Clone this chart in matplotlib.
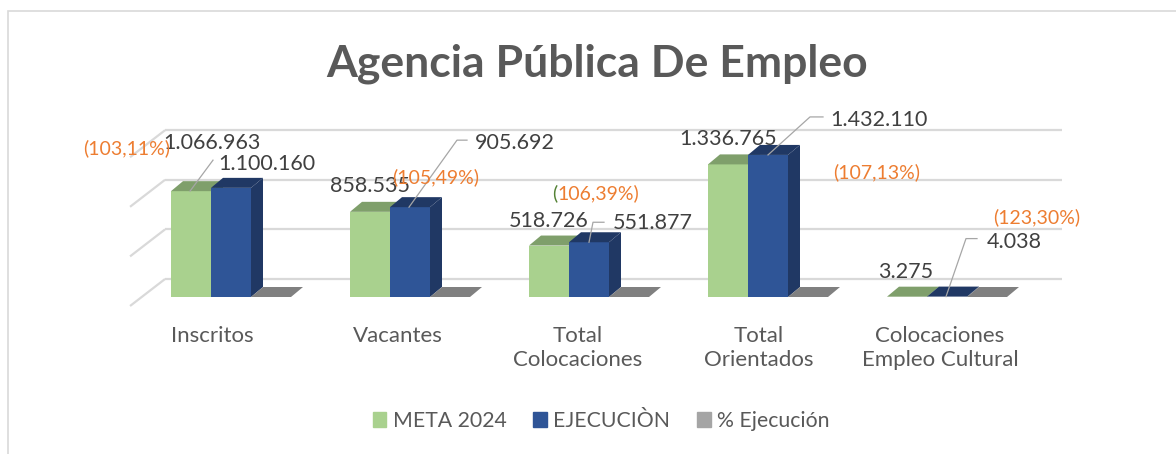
import matplotlib
matplotlib.use("Agg")
import matplotlib.pyplot as plt
from matplotlib.patches import Polygon, Rectangle

plt.rcParams['font.family'] = ['Lato', 'DejaVu Sans']

# data
categories = ['Inscritos', 'Vacantes', 'Total\nColocaciones', 'Total\nOrientados',
              'Colocaciones\nEmpleo Cultural']
meta_2024 = [1066963, 858535, 518726, 1336765, 3275]
ejecucion = [1100160, 905692, 551877, 1432110, 4038]
pct_ejecucion = [103.11, 105.49, 106.39, 107.13, 123.30]
meta_labels = ['1.066.963', '858.535', '518.726', '1.336.765', '3.275']
ejec_labels = ['1.100.160', '905.692', '551.877', '1.432.110', '4.038']
pct_labels = ['(103,11%)', '(105,49%)', '(106,39%)', '(107,13%)', '(123,30%)']
gridlines = [0, 500000, 1000000, 1500000]

# colours
green, green_dark = '#a9d18e', '#7f9f6b'
blue, blue_dark = '#2f5597', '#203864'
gray, gray_top = '#a5a5a5', '#808080'
text_gray = '#595959'
orange = '#ed7d31'

W, H = 1176, 454
fig = plt.figure(figsize=(W / 100, H / 100), dpi=100)
ax = fig.add_axes([0, 0, 1, 1])

# pixel scale of the original plot area
px_x = 179.0          # pixels per category
px_y = 99.2e-6        # pixels per unit value
x0_px, base_px = 231, 297
ax.set_xlim(-x0_px / px_x, (W - x0_px) / px_x)
ax.set_ylim((base_px - H) / px_y, base_px / px_y)
ax.axis('off')


def dx(p):
    return p / px_x


def dy(p):
    return p / px_y


w = dx(40)
bar_dx, bar_dy = dx(12), dy(10)
back_dx, back_dy = dx(23), dy(18)
front_dx, front_dy = dx(12), dy(9)
wall_x0, wall_x1 = -0.497, 4.514

# walls / gridlines
for g in gridlines:
    ax.plot([wall_x0 - front_dx, wall_x0 + back_dx], [g - front_dy, g + back_dy],
            color='#d9d9d9', lw=1.6, solid_capstyle='butt', zorder=1)
    ax.plot([wall_x0 + back_dx, wall_x1 + back_dx], [g + back_dy, g + back_dy],
            color='#d9d9d9', lw=1.6, solid_capstyle='butt', zorder=1)


def bar3d(x, h, front, dark, z=2):
    l, r = x - w / 2, x + w / 2
    ax.bar(x, h, width=w, color=front, edgecolor='none', zorder=z)
    ax.add_patch(Polygon([(r, 0), (r + bar_dx, bar_dy), (r + bar_dx, h + bar_dy), (r, h)],
                         closed=True, facecolor=dark, edgecolor='none', zorder=z))
    ax.add_patch(Polygon([(l, h), (r, h), (r + bar_dx, h + bar_dy), (l + bar_dx, h + bar_dy)],
                         closed=True, facecolor=dark, edgecolor='none', zorder=z))


cat_shift = [-19, -12, -11, -9, -7]
for i in range(len(categories)):
    bar3d(i - w, meta_2024[i], green, green_dark)
    bar3d(i, ejecucion[i], blue, blue_dark)
    bar3d(i + w, pct_ejecucion[i] / 100, gray, gray_top)
    ax.annotate(categories[i], xy=(i, 0), xytext=(cat_shift[i], -29),
                textcoords='offset pixels', ha='center', va='top', fontsize=16,
                color=text_gray, linespacing=1.25)

# data labels (offsets in pixels from the top of the bar front)
lab = dict(fontsize=15.5, color='#404040', zorder=5, ha='center', va='center',
           textcoords='offset pixels')
pl = dict(fontsize=14, color=orange, zorder=5, va='center', textcoords='offset pixels')
lead = dict(color='#a6a6a6', lw=0.9, zorder=4)

meta_off = [(21, 48), (0, 26), (0, 25), (0, 25), (-1, 25)]
ejec_off = [(36, 24), (105, 64), (64, 19), (111, 35), (67, 55)]
pct_off = [(-104, 40), (26, 30), (5, 49), (109, -17), (90, 79)]

for i in range(len(categories)):
    ax.annotate(meta_labels[i], xy=(i - w, meta_2024[i]), xytext=meta_off[i], **lab)
    ax.annotate(ejec_labels[i], xy=(i, ejecucion[i]), xytext=ejec_off[i], **lab)
    ox, oy = pct_off[i]
    if i == 2:
        # opening bracket drawn in green in the original
        ax.annotate('(', xy=(i, ejecucion[i]), xytext=(ox - 37, oy),
                    ha='right', **dict(pl, color='#548235'))
        ax.annotate(pct_labels[i][1:], xy=(i, ejecucion[i]), xytext=(ox - 37, oy),
                    ha='left', **pl)
    else:
        ax.annotate(pct_labels[i], xy=(i, ejecucion[i]), xytext=(ox, oy),
                    ha='center', **pl)

# leader lines: (category, series shift, value, pixel path relative to the bar top)
leaders = [
    (0, -w, meta_2024[0], [(-1, 0), (22, 31)]),
    (1, 0, ejecucion[1], [(-1, 0), (47, 67), (57, 67)]),
    (2, 0, ejecucion[2], [(0, 0), (4, 20), (15, 20)]),
    (3, 0, ejecucion[3], [(0, 0), (42, 38), (55, 38)]),
    (4, 0, ejecucion[4], [(-1, 0), (19, 58), (30, 58)]),
]
inv = ax.transData.inverted()
for i, s, v, path in leaders:
    bx, by = ax.transData.transform((i + s, v))
    pts = [inv.transform((bx + px, by + py)) for px, py in path]
    ax.plot([p[0] for p in pts], [p[1] for p in pts], **lead)

# title
fig.text(0.508, 1 - 64 / H, 'Agencia Pública De Empleo', ha='center', va='center',
         fontsize=32, fontweight='bold', color=text_gray)

# legend
handles = [Rectangle((0, 0), 1, 1, color=c) for c in (green, blue, gray)]
fig.legend(handles, ['META 2024', 'EJECUCIÒN', '% Ejecución'], loc='center',
           bbox_to_anchor=(601 / W, 1 - 421 / H), ncol=3, frameon=False, fontsize=15.3,
           handlelength=0.65, handleheight=0.65, handletextpad=0.3, columnspacing=1.25,
           labelcolor=text_gray)

# chart border
fig.patches.append(Rectangle((8 / W, -0.1), 1.2, 1 - 11 / H + 0.1, transform=fig.transFigure,
                             fill=False, edgecolor='#d9d9d9', lw=1.2))

fig.savefig('out.png', dpi=100)
